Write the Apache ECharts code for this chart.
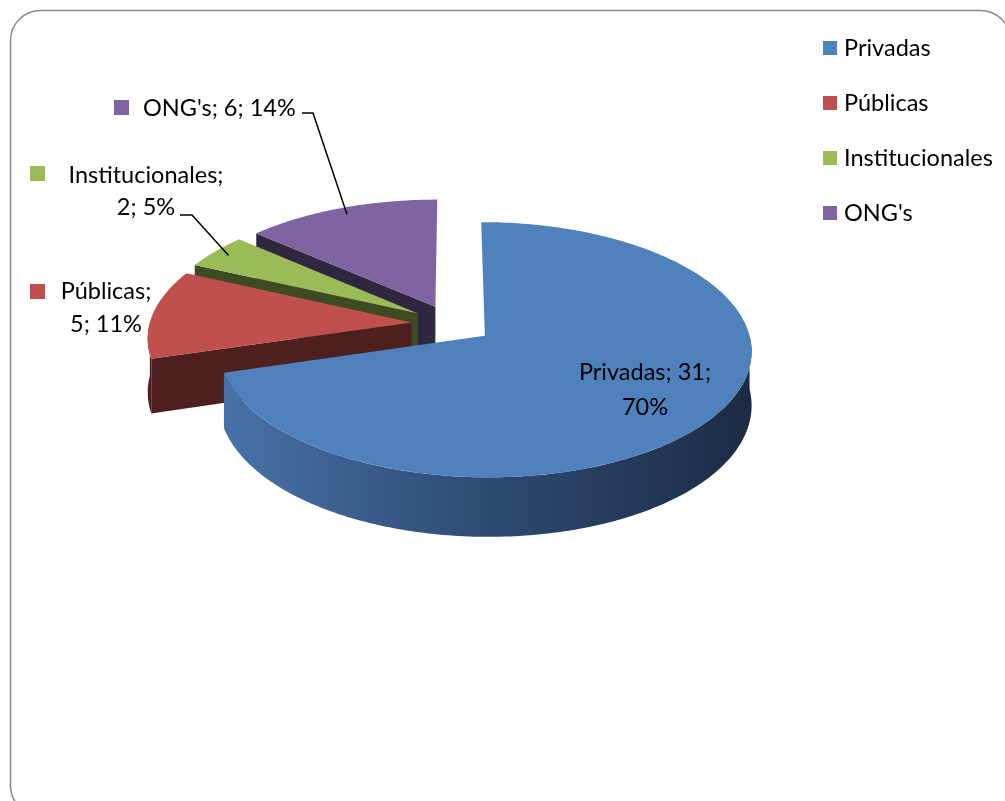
<!DOCTYPE html>
<html>
<head>
<meta charset="utf-8">
<script src="https://cdn.jsdelivr.net/npm/echarts@6/dist/echarts.min.js"></script>
<style>
  html, body { margin: 0; padding: 0; background: #fff; }
  #chart { width: 1005px; height: 801px; }
</style>
</head>
<body>
<div id="chart"></div>
<script>
// datos
const categories = ['Privadas', 'Públicas', 'Institucionales', "ONG's"];
const values = [31, 5, 2, 6];
const topColors = ['#4F81BD', '#C0504D', '#9BBB59', '#8064A2'];
const sideStops = [
  ['#4772a8', '#2e4a72', '#1c2b44'],
  ['#4e1f1f', '#4e1f1f', '#471c1c'],
  ['#445224', '#3e4b22', '#384420'],
  ['#352a45', '#31263f', '#2c2239']
];

// posiciones de las etiquetas (como en el original)
const labelLayout = [
  { x: 645, y: 390, align: 'center', breakAt: 2, lh: 35 },
  { x: 106, y: 308, align: 'center', breakAt: 1, lh: 33, key: [30, 284] },
  { x: 146, y: 191, align: 'center', breakAt: 1, lh: 32, key: [30, 166], leader: [[180, 215], [192, 215]] },
  { x: 143, y: 108, align: 'left', breakAt: 3, lh: 33, key: [114, 100], leader: [[302, 113], [313, 113]] }
];

const FONT = 'Lato, "Open Sans", sans-serif';
const FONT_SIZE = 23.5;
const CX = 452, CY = 324, RX = 262, RY = 125, PERSP = 0.112, EXPLODE = 0.155, DEPTH = 53;

const total = values.reduce((a, b) => a + b, 0);
const starts = [];
let acc = 0;
values.forEach(v => { starts.push(acc / total * 360); acc += v; });

const rad = d => d * Math.PI / 180;

function project(u, v, down) {
  const p = 1 + PERSP * v;
  return [CX + RX * u * p, CY + RY * v * p + (down ? DEPTH * p : 0)];
}

function sliceGeom(i) {
  const a = starts[i];
  const b = a + values[i] / total * 360;
  const mid = (a + b) / 2;
  const ou = EXPLODE * Math.sin(rad(mid));
  const ov = -EXPLODE * Math.cos(rad(mid));
  const pt = (deg, r, down) => project(ou + r * Math.sin(rad(deg)), ov - r * Math.cos(rad(deg)), down);
  return { a, b, mid, ov, pt };
}

function arc(g, from, to, down) {
  const pts = [];
  const n = Math.max(2, Math.ceil(to - from));
  for (let k = 0; k <= n; k++) pts.push(g.pt(from + (to - from) * k / n, 1, down));
  return pts;
}

function sideFill(i) {
  const s = sideStops[i];
  return new echarts.graphic.LinearGradient(0, 0, 1, 0, [
    { offset: 0, color: s[0] }, { offset: 0.5, color: s[1] }, { offset: 1, color: s[2] }
  ]);
}

function renderSlice(params, api) {
  const i = params.seriesIndex;
  const g = sliceGeom(i);
  const sideZ = 50 + Math.round(g.ov * 100);
  const children = [];
  const wall = (deg) => ({
    type: 'polygon', z2: sideZ,
    shape: { points: [g.pt(deg, 0, false), g.pt(deg, 1, false), g.pt(deg, 1, true), g.pt(deg, 0, true)] },
    style: { fill: sideStops[i][1] }
  });
  if (g.a > 180 && g.a < 360) children.push(wall(g.a));
  if (g.b > 0 && g.b < 180) children.push(wall(g.b));
  const from = Math.max(g.a, 90), to = Math.min(g.b, 270);
  if (to > from) {
    const up = arc(g, from, to, false);
    const dn = arc(g, from, to, true).reverse();
    children.push({
      type: 'polygon', z2: sideZ + 1,
      shape: { points: up.concat(dn) },
      style: { fill: sideFill(i) }
    });
  }
  children.push({
    type: 'polygon', z2: 200,
    shape: { points: [g.pt(g.a, 0, false)].concat(arc(g, g.a, g.b, false)) },
    style: { fill: topColors[i] }
  });

  // etiqueta
  const L = labelLayout[i];
  const pct = Math.round(values[i] / total * 100);
  const parts = [categories[i], String(values[i]), pct + '%'];
  let text = parts.slice(0, L.breakAt).join('; ');
  if (L.breakAt < 3) text += ';\n' + parts.slice(L.breakAt).join('; ');
  children.push({
    type: 'text', z2: 300,
    style: {
      text, x: L.x, y: L.y, align: L.align, verticalAlign: 'middle',
      fontSize: FONT_SIZE, fontFamily: FONT, lineHeight: L.lh, fill: '#000'
    }
  });
  if (L.key) {
    children.push({
      type: 'rect', z2: 300,
      shape: { x: L.key[0], y: L.key[1], width: 15, height: 15 },
      style: { fill: topColors[i] }
    });
  }
  if (L.leader) {
    children.push({
      type: 'polyline', z2: 300,
      shape: { points: L.leader.concat([g.pt(g.mid, 0.93, false)]) },
      style: { stroke: '#000', lineWidth: 1.5, fill: null }
    });
  }
  return { type: 'group', children };
}

const chart = echarts.init(document.getElementById('chart'), null, { renderer: 'canvas' });

const option = {
  animation: false,
  color: topColors,
  legend: {
    orient: 'vertical',
    left: 818,
    top: 31,
    itemWidth: 14,
    itemHeight: 14,
    itemGap: 31,
    icon: 'rect',
    data: categories,
    textStyle: { fontSize: FONT_SIZE, fontFamily: FONT, color: '#000', lineHeight: 24, padding: [0, 0, 0, 2] }
  },
  graphic: [{
    type: 'rect',
    silent: true,
    z: -1,
    shape: { x: 10.5, y: 10.5, width: 1000, height: 805, r: 30 },
    style: { fill: '#fff', stroke: '#8a8a8a', lineWidth: 1.5 }
  }],
  series: categories.map((name, i) => ({
    type: 'custom',
    name,
    coordinateSystem: 'none',
    itemStyle: { color: topColors[i] },
    data: [values[i]],
    renderItem: renderSlice
  }))
};

chart.setOption(option);
</script>
</body>
</html>
